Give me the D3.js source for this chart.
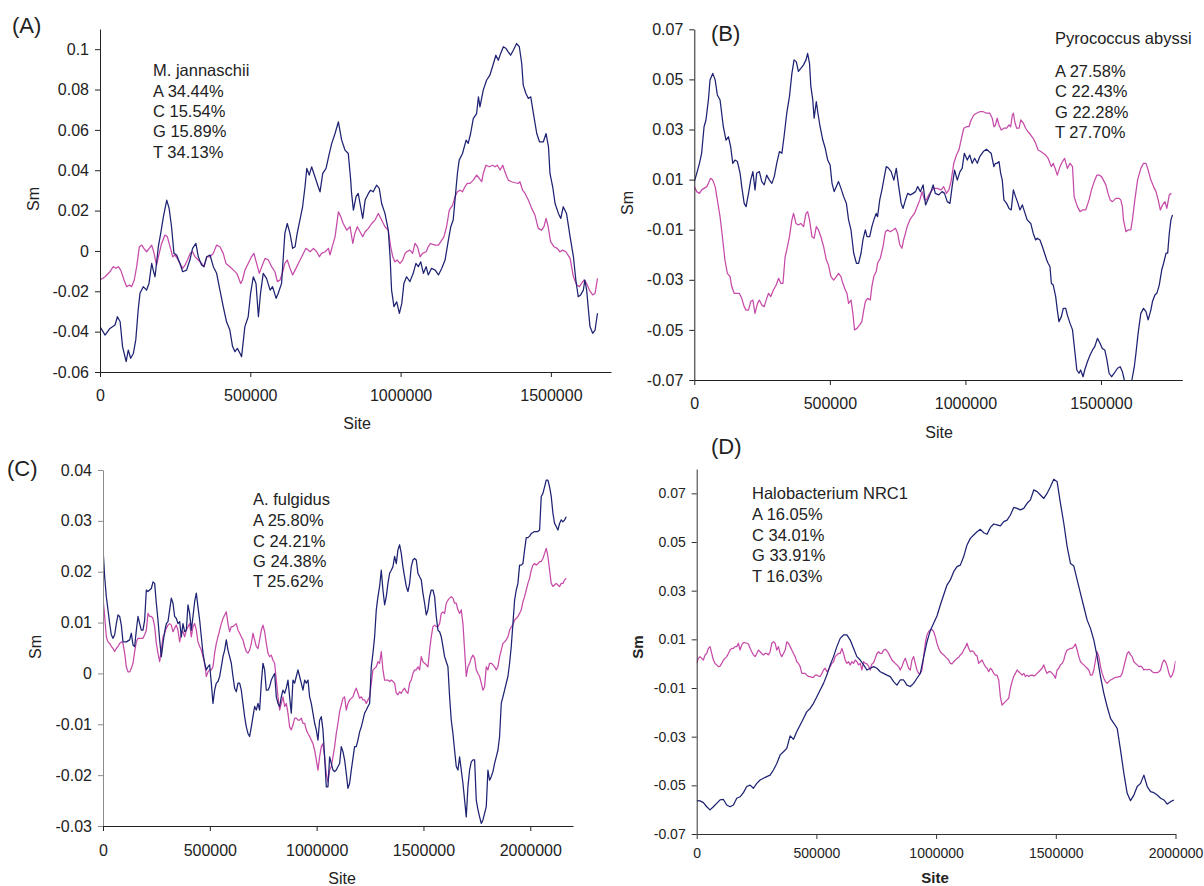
<!DOCTYPE html>
<html>
<head>
<meta charset="utf-8">
<script src="https://cdn.jsdelivr.net/npm/d3@7"></script>
<style>
  body { margin: 0; background: #fff; }
  svg { display: block; font-family: 'Liberation Sans', Arial, sans-serif; }
</style>
</head>
<body>
<svg id="chart" width="1204" height="886"></svg>
<script>
// ---- data: [site (kb), Sm] pairs for A and B ----
const aNavy = [[0,-0.0375],[17,-0.0417],[33,-0.0384],[50,-0.0367],[58,-0.0326],[67,-0.0351],[75,-0.0474],[87,-0.0549],[94,-0.0491],[102,-0.0532],[111,-0.0508],[119,-0.0441],[127,-0.0293],[133,-0.021],[144,-0.0177],[155,-0.0194],[163,-0.0161],[172,-0.0062],[177,-0.0095],[183,-0.0128],[188,-0.0062],[194,0.0021],[202,0.0087],[211,0.017],[222,0.0252],[230,0.0211],[238,0.012],[246,-0.0012],[255,-0.002],[266,-0.0062],[275,-0.0103],[288,-0.0095],[299,-0.0045],[308,0.0013],[319,0.0037],[327,-0.0029],[338,-0.007],[346,-0.0078],[355,-0.0029],[366,-0.002],[377,-0.0078],[388,-0.0111],[399,-0.0194],[410,-0.0276],[421,-0.0351],[432,-0.0392],[441,-0.0474],[449,-0.0499],[457,-0.0483],[466,-0.0508],[471,-0.0524],[482,-0.0375],[493,-0.0326],[501,-0.021],[510,-0.0128],[519,-0.0161],[527,-0.0326],[534,-0.021],[543,-0.0111],[554,-0.0136],[566,-0.0194],[574,-0.0177],[586,-0.0235],[593,-0.021],[604,-0.0161],[615,0.0087],[623,0.0136],[632,0.0087],[641,0.0013],[649,0.0021],[656,0.0087],[665,0.0153],[674,0.0219],[682,0.0318],[688,0.0409],[696,0.0376],[704,0.0417],[715,0.0368],[726,0.0318],[732,0.0293],[741,0.0384],[752,0.0409],[763,0.0483],[771,0.0533],[782,0.0582],[793,0.064],[804,0.0549],[815,0.05],[826,0.0483],[834,0.0351],[837,0.0285],[843,0.0202],[852,0.0269],[859,0.0285],[867,0.0219],[874,0.0161],[882,0.0252],[893,0.0285],[900,0.0301],[909,0.0293],[920,0.0326],[929,0.031],[937,0.0235],[948,0.0186],[959,0.0103],[965,-0.0029],[970,-0.0194],[978,-0.0276],[987,-0.0252],[996,-0.0309],[1004,-0.026],[1011,-0.0161],[1020,-0.0128],[1031,-0.0152],[1042,-0.0111],[1051,-0.0062],[1059,-0.0078],[1067,-0.0054],[1076,-0.0111],[1085,-0.0078],[1092,-0.0119],[1103,-0.0086],[1115,-0.0095],[1126,-0.0119],[1137,-0.0086],[1148,-0.0045],[1159,0.0054],[1167,0.012],[1175,0.0153],[1181,0.0252],[1189,0.0384],[1195,0.045],[1206,0.0483],[1218,0.0549],[1225,0.0533],[1233,0.0582],[1242,0.0657],[1253,0.0681],[1259,0.0764],[1264,0.0714],[1275,0.0797],[1286,0.0846],[1297,0.0871],[1309,0.0929],[1317,0.097],[1325,0.0945],[1333,0.0979],[1342,0.1012],[1351,0.1003],[1358,0.0987],[1366,0.097],[1375,0.0995],[1386,0.1028],[1395,0.1012],[1403,0.0929],[1408,0.0822],[1417,0.078],[1425,0.0756],[1433,0.0764],[1442,0.0681],[1453,0.0582],[1462,0.0541],[1475,0.0541],[1484,0.0582],[1492,0.0516],[1497,0.0384],[1506,0.0318],[1514,0.0235],[1525,0.0186],[1533,0.0161],[1541,0.0219],[1552,0.0186],[1564,0.007],[1575,-0.0029],[1583,-0.0144],[1591,-0.0227],[1599,-0.0218],[1608,-0.0194],[1613,-0.0144],[1619,-0.0194],[1625,-0.0293],[1630,-0.0375],[1639,-0.0408],[1647,-0.0392],[1655,-0.0309]];
const aMagenta = [[0,-0.0144],[17,-0.0128],[33,-0.0103],[44,-0.0078],[53,-0.0086],[61,-0.0078],[69,-0.0095],[80,-0.0144],[89,-0.0177],[98,-0.0169],[105,-0.0177],[114,-0.0144],[122,-0.0078],[131,0.0021],[139,0.0029],[146,0.0013],[155,-0.0004],[164,0.0013],[172,0.0029],[180,-0.0012],[188,-0.007],[197,-0.0012],[205,0.0037],[216,0.0079],[224,0.007],[233,0.0021],[242,-0.0029],[249,-0.002],[257,-0.0037],[266,-0.0062],[275,-0.0086],[283,-0.007],[291,-0.0045],[300,-0.0012],[308,-0.0004],[316,-0.0029],[327,-0.0045],[338,-0.0062],[346,-0.0078],[355,-0.0029],[366,-0.0029],[377,-0.0012],[388,0.0029],[399,0.0021],[410,-0.0012],[419,-0.0062],[432,-0.0078],[444,-0.0095],[455,-0.0111],[468,-0.0161],[474,-0.0144],[482,-0.0095],[493,-0.0062],[504,-0.0029],[512,-0.0012],[521,-0.0062],[530,-0.0111],[538,-0.0078],[549,-0.0037],[560,-0.0045],[571,-0.0078],[582,-0.0103],[590,-0.0152],[599,-0.0144],[608,-0.0103],[615,-0.0062],[623,-0.0045],[632,-0.0086],[641,-0.0119],[649,-0.0095],[660,-0.0062],[671,-0.0029],[685,0.0013],[699,-0.0004],[710,0.0013],[721,-0.0004],[730,-0.0029],[737,-0.0012],[749,-0.0004],[760,0.0013],[765,-0.002],[774,0.0029],[782,0.007],[793,0.0194],[801,0.017],[809,0.0136],[821,0.0103],[832,0.012],[841,0.0037],[848,0.0087],[856,0.012],[865,0.0095],[874,0.007],[882,0.0095],[893,0.0112],[904,0.0136],[915,0.0153],[926,0.0186],[937,0.0153],[948,0.012],[959,0.0103],[967,0.0021],[974,-0.0029],[981,-0.0054],[989,-0.0045],[998,-0.0062],[1007,-0.0045],[1015,-0.0012],[1020,-0.0004],[1031,0.0004],[1040,-0.0012],[1048,0.0037],[1056,0.0021],[1065,-0.0029],[1073,-0.0012],[1085,-0.0004],[1092,0.0021],[1100,0.0037],[1114,0.0029],[1126,0.0029],[1137,0.0054],[1144,0.007],[1153,0.012],[1162,0.0202],[1173,0.0227],[1181,0.0269],[1189,0.0293],[1198,0.0301],[1206,0.0293],[1214,0.0318],[1222,0.0335],[1231,0.0335],[1242,0.0351],[1253,0.0376],[1262,0.0359],[1270,0.0343],[1275,0.0384],[1284,0.0425],[1295,0.0417],[1306,0.0425],[1314,0.0417],[1322,0.0425],[1331,0.0401],[1340,0.0425],[1347,0.0392],[1358,0.0351],[1369,0.0343],[1381,0.0338],[1392,0.0335],[1397,0.0343],[1406,0.0301],[1414,0.0285],[1425,0.0252],[1436,0.0211],[1447,0.0178],[1458,0.0112],[1469,0.0103],[1477,0.012],[1484,0.0161],[1491,0.012],[1499,0.0046],[1510,0.0021],[1521,0.0013],[1530,-0.0004],[1539,0.0004],[1550,-0.0004],[1564,-0.0037],[1575,-0.0128],[1586,-0.0169],[1595,-0.0177],[1602,-0.0161],[1610,-0.0144],[1619,-0.0161],[1628,-0.0194],[1639,-0.0218],[1647,-0.021],[1655,-0.0136]];

const bNavy = [[0,0.0092],[9,0.0125],[19,0.0165],[27,0.0205],[36,0.0311],[43,0.0338],[52,0.0418],[58,0.0498],[68,0.0524],[77,0.0498],[85,0.0438],[95,0.0418],[101,0.0365],[107,0.0311],[117,0.0258],[126,0.0271],[134,0.0232],[142,0.0165],[150,0.0178],[159,0.0172],[169,0.0125],[175,0.0072],[184,0.0005],[191,-0.0008],[200,0.0045],[208,0.0098],[216,0.0132],[224,0.0059],[230,0.0125],[240,0.0132],[249,0.0092],[258,0.0079],[267,0.0118],[277,0.0098],[286,0.0085],[295,0.0112],[304,0.0165],[314,0.0212],[323,0.0205],[331,0.0271],[341,0.0365],[351,0.0431],[360,0.0524],[368,0.0578],[376,0.0571],[384,0.0532],[393,0.0544],[403,0.0558],[412,0.0578],[418,0.0604],[425,0.0564],[430,0.0471],[437,0.0418],[442,0.0345],[450,0.0411],[456,0.0365],[464,0.0311],[474,0.0258],[483,0.0225],[492,0.0178],[501,0.0158],[508,0.0085],[516,0.0052],[524,0.0072],[532,0.0092],[541,0.0065],[551,0.0032],[561,0.0005],[569,-0.0061],[578,-0.0101],[588,-0.0194],[598,-0.0234],[606,-0.0234],[615,-0.0194],[622,-0.0141],[631,-0.0101],[637,-0.0128],[647,-0.0128],[655,-0.0088],[664,-0.0055],[671,-0.0035],[676,-0.0048],[684,0.0019],[692,0.0059],[701,0.0112],[708,0.0152],[717,0.0145],[726,0.0132],[736,0.0098],[745,0.0145],[754,0.0072],[763,0.0005],[770,-0.0015],[779,0.0019],[787,0.0045],[797,0.0039],[807,0.0045],[816,0.0052],[824,0.0072],[834,0.0052],[844,0.0079],[853,-0.0001],[861,0.0019],[871,0.0045],[881,0.0079],[889,0.0045],[902,0.0039],[914,0.0052],[923,0.0045],[933,0.0012],[943,0.0005],[951,0.0072],[960,0.0138],[970,0.0098],[980,0.0132],[988,0.0145],[996,0.0205],[1007,0.0178],[1016,0.0198],[1025,0.0165],[1034,0.0185],[1044,0.0165],[1053,0.0192],[1066,0.0212],[1078,0.0221],[1087,0.0212],[1095,0.0205],[1105,0.0152],[1111,0.0165],[1117,0.0165],[1124,0.0172],[1130,0.0125],[1136,0.0098],[1142,0.0019],[1152,0.0005],[1161,-0.0015],[1169,-0.0021],[1177,0.0059],[1185,0.0032],[1194,0.0005],[1201,-0.0021],[1210,-0.0001],[1218,-0.0028],[1228,-0.0061],[1241,-0.0075],[1250,-0.0114],[1259,-0.0141],[1265,-0.0134],[1275,-0.0141],[1284,-0.0168],[1292,-0.0194],[1300,-0.0221],[1305,-0.0234],[1312,-0.0248],[1317,-0.0314],[1324,-0.0321],[1333,-0.0367],[1339,-0.0421],[1345,-0.0467],[1354,-0.0447],[1361,-0.0414],[1370,-0.0414],[1376,-0.0441],[1386,-0.0474],[1395,-0.05],[1403,-0.058],[1411,-0.066],[1419,-0.0673],[1425,-0.066],[1434,-0.0687],[1440,-0.066],[1450,-0.0627],[1460,-0.06],[1469,-0.058],[1477,-0.0567],[1487,-0.0534],[1497,-0.0554],[1505,-0.0574],[1514,-0.058],[1521,-0.0614],[1530,-0.0673],[1539,-0.0687],[1549,-0.0673],[1561,-0.0653],[1571,-0.0647],[1579,-0.0667],[1586,-0.07],[1598,-0.074],[1611,-0.0735],[1614,-0.07],[1623,-0.0647],[1629,-0.0594],[1637,-0.0514],[1647,-0.0434],[1657,-0.0414],[1666,-0.0427],[1674,-0.046],[1684,-0.0421],[1690,-0.0387],[1699,-0.0361],[1706,-0.0354],[1715,-0.0321],[1724,-0.0261],[1731,-0.0234],[1740,-0.0194],[1746,-0.0194],[1752,-0.0114],[1758,-0.0061],[1764,-0.0041]];
const bMagenta = [[0,0.0072],[9,0.0052],[19,0.0045],[27,0.0059],[36,0.0065],[46,0.0072],[52,0.0085],[60,0.0105],[68,0.0098],[77,0.0072],[85,0.0019],[95,-0.0048],[105,-0.0141],[113,-0.0221],[122,-0.0274],[132,-0.0287],[138,-0.0327],[147,-0.0354],[157,-0.0354],[166,-0.0354],[175,-0.0374],[184,-0.0407],[191,-0.0421],[200,-0.0421],[208,-0.0387],[216,-0.0381],[224,-0.0434],[233,-0.0394],[240,-0.0381],[249,-0.0401],[258,-0.0407],[265,-0.0381],[274,-0.0354],[282,-0.0367],[292,-0.0341],[302,-0.0321],[311,-0.0294],[319,-0.0314],[327,-0.0314],[335,-0.0208],[341,-0.0181],[351,-0.0128],[360,-0.0061],[366,-0.0035],[375,-0.0075],[384,-0.0081],[393,-0.0075],[403,-0.0088],[412,-0.0035],[418,-0.0028],[425,-0.0061],[434,-0.0128],[442,-0.0134],[450,-0.0088],[458,-0.0101],[467,-0.0128],[477,-0.0168],[487,-0.0221],[495,-0.0241],[504,-0.0287],[514,-0.0301],[524,-0.0287],[532,-0.0274],[541,-0.0287],[548,-0.0314],[557,-0.0341],[563,-0.0354],[569,-0.0394],[578,-0.0381],[585,-0.0434],[591,-0.05],[600,-0.0494],[610,-0.048],[618,-0.0467],[625,-0.0421],[631,-0.0387],[639,-0.0374],[649,-0.0381],[655,-0.0327],[662,-0.0287],[671,-0.0267],[676,-0.0234],[686,-0.0214],[696,-0.0168],[705,-0.0108],[713,-0.0101],[723,-0.0108],[733,-0.0101],[742,-0.0094],[750,-0.0114],[758,-0.0161],[766,-0.0174],[772,-0.0141],[779,-0.0114],[785,-0.0088],[795,-0.0061],[803,-0.0048],[812,-0.0035],[822,-0.0008],[832,0.0019],[840,0.0052],[849,0.0019],[856,0.0019],[865,0.0039],[873,0.0052],[883,0.0065],[896,0.0065],[910,0.0059],[920,0.0072],[930,0.0045],[939,0.0059],[947,0.0092],[957,0.0165],[967,0.0198],[976,0.0218],[984,0.0258],[994,0.0305],[1004,0.0311],[1013,0.0311],[1021,0.0338],[1031,0.0358],[1041,0.0365],[1053,0.0371],[1066,0.0371],[1078,0.0365],[1090,0.0365],[1099,0.0345],[1105,0.0311],[1111,0.0318],[1117,0.0345],[1124,0.0318],[1132,0.0298],[1142,0.0305],[1152,0.0305],[1161,0.0318],[1167,0.0311],[1173,0.0358],[1177,0.0365],[1182,0.0331],[1189,0.0305],[1198,0.0305],[1204,0.0338],[1214,0.0325],[1222,0.0305],[1231,0.0291],[1241,0.0278],[1250,0.0265],[1259,0.0245],[1268,0.0218],[1278,0.0212],[1287,0.0205],[1296,0.0198],[1305,0.0185],[1312,0.0165],[1317,0.0152],[1324,0.0165],[1333,0.0138],[1339,0.0118],[1349,0.0152],[1358,0.0172],[1366,0.0185],[1376,0.0145],[1386,0.0165],[1395,0.0152],[1401,0.0032],[1413,-0.0008],[1423,-0.0028],[1432,-0.0021],[1444,-0.0021],[1456,0.0019],[1465,0.0059],[1475,0.0092],[1485,0.0118],[1493,0.0118],[1502,0.0112],[1512,0.0092],[1518,0.0079],[1526,0.0045],[1534,0.0019],[1542,0.0012],[1555,0.0025],[1567,0.0025],[1573,0.0019],[1579,-0.0008],[1583,-0.0061],[1592,-0.0108],[1600,-0.0101],[1610,-0.0101],[1616,-0.0061],[1625,0.0019],[1635,0.0098],[1647,0.0145],[1657,0.0165],[1666,0.0165],[1674,0.0138],[1684,0.0098],[1694,0.0072],[1703,0.0052],[1711,0.0019],[1719,-0.0021],[1727,-0.0001],[1736,0.0012],[1743,-0.0015],[1752,0.0039],[1760,0.0045]];

// ---- data: C and D sampled on a regular site step ----
const cStep = 7800;
const cNavy = [0.0246,0.019,0.0151,0.0125,0.0098,0.0076,0.0069,0.0076,0.0098,0.0115,0.0112,0.0095,0.0062,0.0062,0.0062,0.0064,0.0066,0.0079,0.0056,0.0053,0.0085,0.0112,0.0098,0.0085,0.0085,0.0105,0.0164,0.0161,0.0164,0.0167,0.018,0.0177,0.0138,0.0105,0.0066,0.0033,0.0059,0.0082,0.0098,0.0102,0.0125,0.0148,0.0138,0.0112,0.0108,0.0098,0.0102,0.0072,0.0098,0.0082,0.0085,0.0135,0.0118,0.0085,0.0112,0.0141,0.0158,0.0131,0.0105,0.0072,0.004,0.002,0.0007,0.0013,0.0017,-0.0019,-0.0059,-0.0033,-0.0019,-0.0016,-0.0006,0.0013,0.0033,0.0046,0.0066,0.0046,0.0033,0.002,-0.0006,-0.0029,-0.0036,-0.0019,-0.0019,-0.0033,-0.0059,-0.0085,-0.0105,-0.0118,-0.0124,-0.0105,-0.0085,-0.0065,-0.0072,-0.0059,-0.0072,-0.0019,0.002,0.0007,-0.0033,-0.0033,-0.0026,-0.0013,-0.0006,0,-0.0046,-0.0059,-0.0065,-0.0046,-0.0033,-0.0039,-0.0029,-0.0013,-0.0046,-0.0078,-0.0013,-0.0019,-0.0006,0.0007,-0.0006,-0.0019,-0.0033,-0.0013,-0.0019,-0.0013,-0.0046,-0.0059,-0.0078,-0.0098,-0.0111,-0.0131,-0.0092,-0.0085,-0.0111,-0.0164,-0.0223,-0.0223,-0.0164,-0.0177,-0.019,-0.0193,-0.019,-0.0183,-0.0177,-0.0144,-0.0154,-0.017,-0.0197,-0.0226,-0.0216,-0.019,-0.0167,-0.0144,-0.0144,-0.0131,-0.0115,-0.0105,-0.0092,-0.0078,-0.0072,-0.0065,-0.0059,0.0013,0.004,0.0072,0.0125,0.0151,0.0171,0.0203,0.0164,0.0135,0.0151,0.0177,0.0197,0.0203,0.021,0.023,0.0216,0.0243,0.0253,0.0236,0.021,0.019,0.0171,0.0161,0.0177,0.021,0.0223,0.0226,0.0223,0.0197,0.019,0.0184,0.0158,0.0138,0.0115,0.0125,0.0151,0.0164,0.0164,0.0151,0.0112,0.0085,0.0082,0.0072,0.0053,0.0033,0.0023,0.0013,-0.0046,-0.0092,-0.0118,-0.0151,-0.0183,-0.019,-0.0164,-0.019,-0.0216,-0.0249,-0.0282,-0.0223,-0.019,-0.0174,-0.017,-0.017,-0.0249,-0.0268,-0.0282,-0.0295,-0.0288,-0.0275,-0.0262,-0.019,-0.021,-0.0203,-0.0193,-0.0177,-0.0164,-0.0151,-0.0124,-0.0059,-0.0046,-0.0033,-0.0019,-0.0006,0.002,0.0053,0.0098,0.0144,0.0164,0.0177,0.0213,0.0213,0.0216,0.0243,0.0267,0.0267,0.027,0.0275,0.0277,0.0279,0.0279,0.0279,0.0282,0.0348,0.0354,0.0367,0.038,0.038,0.0367,0.0348,0.0315,0.0295,0.0289,0.0282,0.0295,0.0302,0.0298,0.0302,0.0308];
const cMagenta = [0.0148,0.0112,0.0072,0.0062,0.0059,0.0053,0.0049,0.0043,0.0049,0.0053,0.0059,0.0062,0.0059,0.004,0.0013,0.0003,0.0003,0.001,0.002,0.0043,0.0062,0.0069,0.0069,0.0069,0.0069,0.0076,0.0085,0.0118,0.0112,0.0112,0.0108,0.0092,0.0059,0.004,0.0023,0.0046,0.0072,0.0079,0.0089,0.0095,0.0098,0.0095,0.0082,0.0089,0.0095,0.0085,0.0062,0.0079,0.0082,0.0072,0.0085,0.0092,0.0098,0.0072,0.0092,0.0098,0.0085,0.0062,0.0053,0.0046,0.0033,0.002,-0.0006,0.0003,0.0007,0.0007,0.0013,0.004,0.0059,0.0072,0.0085,0.0098,0.0108,0.0115,0.0121,0.0098,0.0082,0.0092,0.0092,0.0095,0.0098,0.0085,0.0079,0.0072,0.0066,0.0053,0.0043,0.004,0.0046,0.0059,0.0079,0.0066,0.0053,0.0049,0.0066,0.0085,0.0095,0.0082,0.0059,0.004,0.0033,0.0036,0.0026,0.002,-0.0013,-0.0046,-0.0072,-0.0059,-0.0046,-0.0065,-0.0059,-0.0078,-0.0105,-0.0111,-0.0101,-0.0088,-0.0088,-0.0092,-0.0092,-0.0088,-0.0098,-0.0098,-0.0111,-0.0118,-0.0124,-0.0131,-0.0138,-0.0151,-0.017,-0.019,-0.0164,-0.0144,-0.0138,-0.0164,-0.0197,-0.0213,-0.019,-0.0183,-0.0164,-0.0144,-0.0118,-0.0098,-0.0075,-0.0062,-0.0049,-0.0046,-0.0072,-0.0059,-0.0052,-0.0049,-0.0046,-0.0036,-0.0029,-0.0039,-0.0049,-0.0046,-0.0052,-0.0052,-0.0059,-0.0052,-0.0046,-0.0019,0.0007,0.001,0.0013,0.0023,0.002,0.0043,0.0007,-0.0013,-0.0013,-0.0013,-0.0016,-0.0013,-0.0016,-0.0019,-0.0039,-0.0042,-0.0036,-0.0039,-0.0033,-0.0029,-0.0036,-0.0039,-0.0019,-0.0013,0,0.0007,0.0007,0.0013,0.0007,0.0033,0.0023,0.002,0.0017,0.0013,0.0046,0.0072,0.0092,0.0095,0.0092,0.0092,0.0098,0.0118,0.0121,0.0118,0.0138,0.0144,0.0148,0.0151,0.0148,0.0138,0.0138,0.0125,0.0118,0.0125,0.0098,0.0046,-0.0006,0.0013,0.002,0.003,0.0036,0.003,0.0007,0,-0.0006,-0.0019,-0.0033,-0.0026,0.0013,0.0007,0.002,0.002,0.0017,0.0013,0.0007,0.0013,0.0033,0.0046,0.0059,0.0062,0.0066,0.0072,0.0085,0.0092,0.0095,0.0105,0.0108,0.0112,0.0118,0.0125,0.0141,0.0151,0.0164,0.0177,0.0187,0.0203,0.0213,0.0216,0.0213,0.0216,0.022,0.022,0.0226,0.0236,0.0246,0.023,0.0203,0.0177,0.0171,0.0174,0.0177,0.0174,0.0171,0.0177,0.0177,0.0184,0.0187];

const dNavyStep = 13940;
const dNavy = [-0.0563,-0.0564,-0.0571,-0.0588,-0.0601,-0.0588,-0.0574,-0.056,-0.0558,-0.0581,-0.0588,-0.0581,-0.0553,-0.0547,-0.053,-0.0505,-0.0499,-0.0512,-0.0492,-0.0478,-0.0471,-0.0464,-0.0458,-0.0437,-0.041,-0.0375,-0.0362,-0.0348,-0.0297,-0.0311,-0.0279,-0.0252,-0.0225,-0.0197,-0.0184,-0.0163,-0.0136,-0.0108,-0.0081,-0.0047,-0.0005,0.0029,0.007,0.0104,0.0118,0.0118,0.0097,0.0063,0.0029,0.0015,-0.0005,-0.0026,-0.0019,-0.0012,-0.0019,-0.0033,-0.004,-0.0047,-0.0053,-0.0074,-0.0088,-0.0067,-0.0067,-0.0088,-0.0094,-0.0081,-0.006,-0.004,0.0026,0.009,0.0136,0.0166,0.0196,0.0241,0.0282,0.0323,0.0344,0.0378,0.0399,0.0405,0.044,0.0488,0.0515,0.0529,0.0542,0.0552,0.0538,0.0532,0.056,0.0574,0.057,0.0566,0.0584,0.059,0.0611,0.0642,0.0638,0.0632,0.0638,0.0659,0.0673,0.0714,0.0707,0.0693,0.0679,0.07,0.0727,0.0758,0.0748,0.0659,0.0577,0.0481,0.0412,0.0401,0.0344,0.0289,0.0234,0.0179,0.0145,0.0097,0.0029,-0.0053,-0.0122,-0.0177,-0.0225,-0.0245,-0.0266,-0.0355,-0.0451,-0.0533,-0.0563,-0.054,-0.0505,-0.0492,-0.0458,-0.0505,-0.0526,-0.053,-0.054,-0.0553,-0.056,-0.0577,-0.0567,-0.056];
const dMagentaStep = 6970;
const dMagenta = [0.0001,0.0022,0.0029,0.0022,0.0015,0.0036,0.0042,0.0063,0.007,0.0042,0.0015,0.0001,-0.0005,-0.0012,-0.001,0.0001,0.0015,0.0022,0.0029,0.0042,0.0056,0.0063,0.0063,0.007,0.007,0.0084,0.0056,0.0077,0.0086,0.0086,0.0084,0.0081,0.0063,0.0049,0.0036,0.0029,0.0042,0.0056,0.0049,0.0042,0.0036,0.0042,0.0042,0.0036,0.0049,0.0084,0.009,0.0084,0.0056,0.007,0.0042,0.0029,0.0042,0.0056,0.009,0.0084,0.007,0.0056,0.0042,0.0029,0.0008,0.0001,-0.0012,-0.004,-0.004,-0.004,-0.0047,-0.0053,-0.0053,-0.0056,-0.0056,-0.0047,-0.0047,-0.0051,-0.0053,-0.004,-0.0026,-0.0019,-0.0033,-0.0026,-0.0012,0.0001,0.0008,0.0029,0.0036,0.0042,0.0042,0.0063,0.0042,0.0015,0.0001,0.0008,-0.0005,0.0008,0.0001,0.0015,0.0008,-0.0005,0.0001,-0.0026,0.0008,0.0001,-0.0001,-0.001,-0.0026,-0.0001,0.0004,0.0022,0.0042,0.0049,0.0042,0.0042,0.0056,0.0059,0.0053,0.0042,0.0029,0.0015,0.0008,0.0001,-0.0005,-0.0012,-0.0026,-0.0012,0.0008,0.0022,0.0001,-0.0019,-0.0026,0.0015,0.0029,0.0001,-0.0026,-0.004,-0.004,-0.0026,0.0029,0.0084,0.0118,0.0132,0.0138,0.0141,0.0132,0.0111,0.0084,0.0063,0.0049,0.0042,0.0036,0.0029,0.0022,0.0015,0.0001,-0.0001,0.0008,0.0015,0.0022,0.0026,0.0036,0.0042,0.0056,0.0067,0.0084,0.0063,0.0049,0.0053,0.0049,0.0036,0.0032,0.0001,0.0008,0.0015,0.0001,-0.0012,-0.0019,-0.0033,-0.0019,-0.0026,-0.004,-0.0047,-0.0047,-0.0067,-0.0136,-0.017,-0.0163,-0.0156,-0.0149,-0.0142,-0.0101,-0.0074,-0.0053,-0.004,-0.0026,-0.0033,-0.004,-0.0047,-0.004,-0.0053,-0.0047,-0.0053,-0.0048,-0.0047,-0.0051,-0.0047,-0.004,-0.0033,-0.0026,-0.0019,-0.0005,-0.0026,-0.004,-0.0033,-0.0033,-0.004,-0.0047,-0.006,-0.0026,-0.0019,-0.0005,0.0001,0.0015,0.0042,0.0056,0.0059,0.0063,0.0063,0.007,0.0081,0.0056,0.0029,0.0008,0.0001,-0.0005,-0.0012,-0.0019,-0.0026,-0.0047,-0.0047,-0.0026,0.0015,0.0049,0.0029,-0.0012,-0.004,-0.006,-0.0074,-0.0081,-0.0074,-0.0067,-0.0064,-0.006,-0.0056,-0.0056,-0.0053,-0.0053,-0.004,-0.0012,0.0015,0.0042,0.0049,0.0036,0.0029,0.0008,0.0001,-0.0005,-0.0012,-0.001,-0.0015,-0.0026,-0.0023,-0.0026,-0.0023,-0.0026,-0.0033,-0.0037,-0.0037,-0.0037,-0.0033,-0.0026,0.0001,0.0015,0.0008,-0.0012,-0.004,-0.0056,-0.0047,-0.0026,0.0012];

// ---- axis ticks ----
const aYTicks = [-0.06, -0.04, -0.02, 0, 0.02, 0.04, 0.06, 0.08, 0.1];
const bYTicks = [-0.07, -0.05, -0.03, -0.01, 0.01, 0.03, 0.05, 0.07];
const cYTicks = [-0.03, -0.02, -0.01, 0, 0.01, 0.02, 0.03, 0.04];
const dYTicks = [-0.07, -0.05, -0.03, -0.01, 0.01, 0.03, 0.05, 0.07];
const xTicks17 = [0, 500000, 1000000, 1500000];
const xTicks22 = [0, 500000, 1000000, 1500000, 2000000];

// ---- genome notes ----
const aNotes = ['M. jannaschii', 'A 34.44%', 'C 15.54%', 'G 15.89%', 'T 34.13%'];
const bNotes = ['Pyrococcus abyssi', 'A 27.58%', 'C 22.43%', 'G 22.28%', 'T 27.70%'];
const cNotes = ['A. fulgidus', 'A 25.80%', 'C 24.21%', 'G 24.38%', 'T 25.62%'];
const dNotes = ['Halobacterium NRC1', 'A 16.05%', 'C 34.01%', 'G 33.91%', 'T 16.03%'];

const fromPairs = pairs => pairs.map(d => ({ site: d[0] * 1000, sm: d[1] }));
const fromSteps = (values, step) => values.map((v, i) => ({ site: i * step, sm: v }));

const NAVY = '#1d2272';
const MAGENTA = '#c64ba8';

const panels = [
  {
    id: 'A', label: '(A)', labelPos: [12, 33],
    navy: fromPairs(aNavy), magenta: fromPairs(aMagenta),
    xDomain: [0, 1700000], xRange: [100, 611], xTicks: xTicks17,
    yDomain: [-0.06, 0.11], yRange: [372, 29], yTicks: aYTicks,
    font: 16, xPad: 12.4, axisColor: '#222', yAxisColor: '#222',
    notes: aNotes, notesX: 153, notesY: [76, 96.5, 116.5, 137, 157.5],
    sm: [39, 199], site: [357, 429], bold: false,
  },
  {
    id: 'B', label: '(B)', labelPos: [711, 40.5],
    navy: fromPairs(bNavy), magenta: fromPairs(bMagenta),
    xDomain: [0, 1800000], xRange: [694.3, 1182.3], xTicks: xTicks17,
    yDomain: [-0.07, 0.07], yRange: [380, 29.3], yTicks: bYTicks,
    font: 16, xPad: 12.7, axisColor: '#222', yAxisColor: '#222',
    notes: bNotes, notesX: 1055, notesY: [43.5, 77, 97, 117.5, 137.5],
    sm: [633, 203], site: [939, 437.5], bold: false,
  },
  {
    id: 'C', label: '(C)', labelPos: [7, 476],
    navy: fromSteps(cNavy, cStep), magenta: fromSteps(cMagenta, cStep),
    xDomain: [0, 2200000], xRange: [103, 573], xTicks: xTicks22,
    yDomain: [-0.03, 0.04], yRange: [826, 470], yTicks: cYTicks,
    font: 16, xPad: 13.4, axisColor: '#222', yAxisColor: '#8c8c8c',
    notes: cNotes, notesX: 253, notesY: [505, 526, 546.5, 566.5, 587],
    sm: [41, 647], site: [342, 884], bold: false,
  },
  {
    id: 'D', label: '(D)', labelPos: [711, 454],
    navy: fromSteps(dNavy, dNavyStep), magenta: fromSteps(dMagenta, dMagentaStep),
    xDomain: [0, 2000000], xRange: [696.7, 1175.5], xTicks: xTicks22,
    yDomain: [-0.07, 0.08], yRange: [834, 469], yTicks: dYTicks,
    font: 14, xPad: 9.4, axisColor: '#333', yAxisColor: '#333',
    notes: dNotes, notesX: 752, notesY: [499, 519.5, 540.5, 561, 581.5],
    sm: [643, 647], site: [935, 882.5], bold: true,
  },
];

const svg = d3.select('#chart');

// Draw one Sm-vs-site panel
function drawPanel(p) {
  const x = d3.scaleLinear().domain(p.xDomain).range(p.xRange);
  const y = d3.scaleLinear().domain(p.yDomain).range(p.yRange);
  const g = svg.append('g').attr('class', 'panel-' + p.id);

  g.append('clipPath')
    .attr('id', 'clip-' + p.id)
    .append('rect')
    .attr('x', p.xRange[0])
    .attr('y', p.yRange[1])
    .attr('width', p.xRange[1] - p.xRange[0])
    .attr('height', p.yRange[0] - p.yRange[1]);

  const line = d3.line()
    .x(d => x(d.site))
    .y(d => y(d.sm));

  const plot = g.append('g').attr('clip-path', `url(#clip-${p.id})`);
  [[p.magenta, MAGENTA], [p.navy, NAVY]].forEach(([data, color]) => {
    plot.append('path')
      .datum(data)
      .attr('fill', 'none')
      .attr('stroke', color)
      .attr('stroke-width', 1.25)
      .attr('stroke-linejoin', 'round')
      .attr('d', line);
  });

  // y axis
  const yAxis = g.append('g')
    .attr('transform', `translate(${p.xRange[0]},0)`)
    .call(d3.axisLeft(y)
      .tickValues(p.yTicks)
      .tickFormat(d => String(d))
      .tickSizeInner(5)
      .tickSizeOuter(0)
      .tickPadding(6));
  yAxis.select('.domain').attr('stroke', p.yAxisColor);
  yAxis.selectAll('.tick line').attr('stroke', p.yAxisColor);
  yAxis.selectAll('text')
    .attr('fill', '#222')
    .style('font-size', p.font + 'px')
    .style('font-family', "'Liberation Sans', Arial, sans-serif");

  // x axis
  const xAxis = g.append('g')
    .attr('transform', `translate(0,${p.yRange[0]})`)
    .call(d3.axisBottom(x)
      .tickValues(p.xTicks)
      .tickFormat(d3.format('d'))
      .tickSizeInner(5)
      .tickSizeOuter(0)
      .tickPadding(p.xPad));
  xAxis.select('.domain').attr('stroke', p.axisColor);
  xAxis.selectAll('.tick line').attr('stroke', p.axisColor);
  xAxis.selectAll('text')
    .attr('fill', '#222')
    .style('font-size', p.font + 'px')
    .style('font-family', "'Liberation Sans', Arial, sans-serif");

  // axis titles
  const titleSize = p.bold ? 15 : 16;
  g.append('text')
    .attr('transform', `translate(${p.sm[0]},${p.sm[1]}) rotate(-90)`)
    .attr('text-anchor', 'middle')
    .attr('fill', '#222')
    .style('font-size', titleSize + 'px')
    .style('font-weight', p.bold ? 'bold' : 'normal')
    .text('Sm');

  g.append('text')
    .attr('x', p.site[0])
    .attr('y', p.site[1])
    .attr('text-anchor', 'middle')
    .attr('fill', '#222')
    .style('font-size', titleSize + 'px')
    .style('font-weight', p.bold ? 'bold' : 'normal')
    .text('Site');

  // panel letter
  g.append('text')
    .attr('x', p.labelPos[0])
    .attr('y', p.labelPos[1])
    .attr('fill', '#222')
    .style('font-size', '22px')
    .text(p.label);

  // organism and base composition
  g.append('g')
    .selectAll('text')
    .data(p.notes)
    .enter()
    .append('text')
    .attr('x', p.notesX)
    .attr('y', (d, i) => p.notesY[i])
    .attr('fill', '#222')
    .style('font-size', '16.5px')
    .text(d => d);
}

panels.forEach(drawPanel);
</script>
</body>
</html>
